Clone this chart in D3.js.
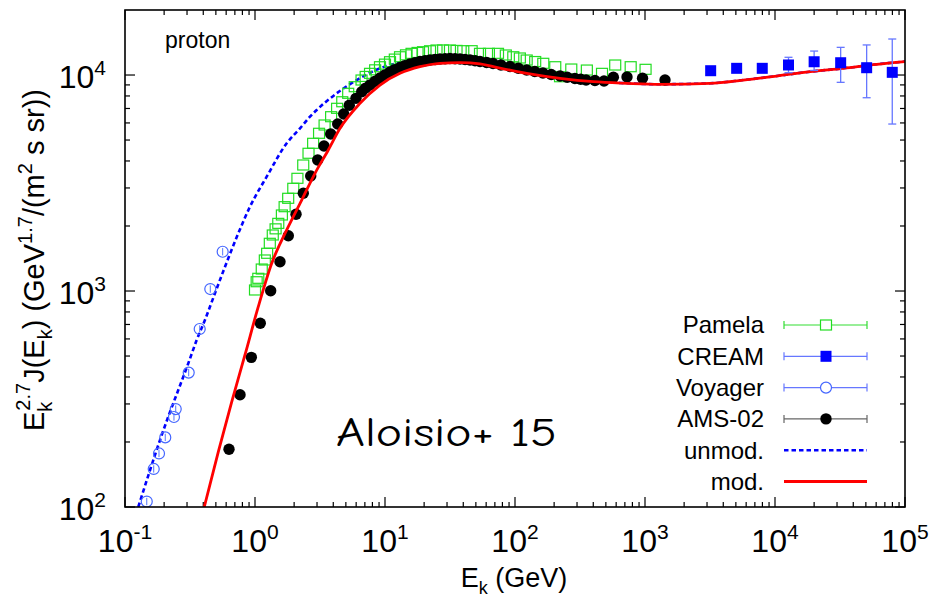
<!DOCTYPE html>
<html>
<head>
<meta charset="utf-8">
<script src="https://cdn.jsdelivr.net/npm/d3@7"></script>
<style>
  body { margin: 0; background: #fff; }
  svg { display: block; font-family: "Liberation Sans", Arial, Helvetica, sans-serif; }
</style>
</head>
<body>
<div id="chart"></div>
<script>
// ---- data (Ek in GeV, flux Ek^2.7 J) ----
var voyE = [0.147, 0.1663, 0.1826, 0.204, 0.238, 0.2455, 0.309, 0.3755, 0.453, 0.564];
var voyF = [106, 150, 177, 210, 261, 284, 419, 667, 1021, 1520];

var amsE = [0.631, 0.767, 0.937, 1.098, 1.32, 1.557, 1.804, 2.068, 2.352, 2.683, 3.035, 3.394,
    3.823, 4.327, 4.813, 5.314, 5.98, 6.62, 7.1, 7.67, 8.4, 9.15, 10.0, 10.93, 11.9, 13.05,
    14.2, 15.57, 17.0, 18.58, 20.3, 22.2, 24.3, 26.5, 29.0, 31.6, 34.6, 37.8, 41.3, 45.1,
    49.3, 53.8, 60.5, 67.8, 78, 91.5, 106, 123, 142, 164, 190, 222, 252, 289, 320, 352,
    412, 484, 571, 727, 957, 1425];
var amsF = [185, 331, 493, 709, 1003, 1366, 1803, 2265, 2834, 3407, 4042, 4691,
    5333, 5932, 6598, 7240, 7800, 8368, 8700, 8989, 9350, 9685, 10020, 10325, 10590, 10832,
    11050, 11240, 11400, 11547, 11650, 11733, 11800, 11860, 11900, 11923, 11900, 11860, 11800, 11733,
    11640, 11547, 11420, 11303, 11130, 10950, 10750, 10545, 10380, 10216, 10050, 9894, 9760, 9634, 9560, 9482,
    9430, 9380, 9759, 9788, 9654, 9482];

var pamE = [1.0, 1.03, 1.06, 1.127, 1.19, 1.24, 1.30, 1.37, 1.44, 1.51, 1.61, 1.69, 1.80, 1.97,
    2.12, 2.35, 2.58, 2.80, 3.11, 3.43, 3.85, 4.28, 4.69, 5.21, 5.85, 6.6, 7.1, 7.67, 8.4, 9.15,
    10.0, 10.93, 11.9, 13.05, 14.5, 16.0, 17.8, 19.6, 22.2, 24.9, 28, 31.6, 35.5, 40.0, 46.4,
    53.8, 63, 74, 85, 97, 109, 123, 143, 165, 204, 222, 271, 357, 467, 590, 776, 1010];
var pamF = [1011, 1104, 1145, 1264, 1392, 1495, 1663, 1817, 1940, 2057, 2249, 2457, 2687, 2989,
    3325, 3832, 4342, 4829, 5373, 5870, 6412, 7013, 7520, 8229, 8829, 9482, 9850, 10180, 10570, 10925,
    11230, 11525, 11850, 12150, 12400, 12600, 12720, 12820, 12950, 13055, 13060, 13055, 13000, 12960, 12960,
    12600, 12600, 12600, 12380, 12150, 11990, 11733, 11547, 11330, 10925, 9820, 10660, 10545, 10180, 11125, 10925, 10627];

var creamE = [3200, 5070, 7980, 12700, 20000, 32000, 50700, 79800];
var creamF = [10470, 10740, 10740, 11130, 11520, 11400, 10810, 10290];
var creamLo = [10150, 10450, 10450, 10250, 10500, 9250, 7850, 5930];
var creamHi = [10800, 11050, 11050, 12080, 12910, 13430, 13780, 14680];

var unmodE = [0.1265, 0.1557, 0.1858, 0.2153, 0.257, 0.307, 0.356, 0.412, 0.492, 0.588, 0.744, 0.915,
    1.23, 1.753, 2.22, 2.65, 2.983, 4.25, 6.06, 9.15, 13.83, 22.2, 33.5, 53.8, 68.1, 123, 222, 400,
    722, 1304, 3162, 5700, 10300, 18580, 33500, 60500, 100000];
var unmodF = [100, 148, 204, 262, 348, 463, 593, 734, 976, 1296, 1850, 2457,
    3383, 4829, 5665, 6412, 6887, 8229, 9480, 10740, 11525, 12080, 12080, 11820, 11525, 10545, 9894, 9360,
    9160, 9065, 9155, 9480, 9894, 10360, 10740, 11210, 11550];

var modE = [0.407, 0.522, 0.662, 0.838, 1.06, 1.345, 1.804, 2.287, 2.894, 3.663, 4.507, 6.42, 9.15,
    13.05, 18.58, 26.5, 37.8, 53.8, 68.1, 123, 222, 400, 722, 1304, 3162, 5700, 10300, 18580,
    33500, 60500, 100000];
var modF = [100, 180, 307, 507, 846, 1343, 1985, 2638, 3507, 4497, 5665, 7396, 8989,
    10180, 10925, 11330, 11405, 11250, 10925, 10180, 9654, 9310, 9155, 9060, 9155, 9480, 9894, 10360,
    10740, 11210, 11550];

var xDecades = [-1, 0, 1, 2, 3, 4, 5];
var yDecades = [2, 3, 4];
var legendNames = ["Pamela", "CREAM", "Voyager", "AMS-02", "unmod.", "mod."];

// ---- layout ----
var width = 933, height = 603;
var pL = 125, pR = 905, pT = 10, pB = 507;

var x = d3.scaleLog().domain([0.1, 1e5]).range([pL, pR]);
var y = d3.scaleLog().domain([100, 2e4]).range([pB, pT]);

var svg = d3.select('#chart').append('svg')
    .attr('width', width)
    .attr('height', height);

svg.append('defs').append('clipPath').attr('id', 'clip')
    .append('rect')
    .attr('x', pL).attr('y', pT)
    .attr('width', pR - pL).attr('height', pB - pT);

var zip = (a, b) => a.map((v, i) => [v, b[i]]);

// ticks (inward, all four sides)
var tickG = svg.append('g').attr('stroke', '#000').attr('stroke-width', 1.2);
var xMinor = [], yMinor = [];
for (var d = -1; d < 5; d++) for (var k = 2; k <= 9; k++) xMinor.push(k * Math.pow(10, d));
for (var d = 2; d < 5; d++) for (var k = 2; k <= 9; k++) {
    var v = k * Math.pow(10, d);
    if (v < 2e4) yMinor.push(v);
}
xDecades.forEach(function(e) {
    var px = x(Math.pow(10, e));
    tickG.append('line').attr('x1', px).attr('x2', px).attr('y1', pB).attr('y2', pB - 10);
    tickG.append('line').attr('x1', px).attr('x2', px).attr('y1', pT).attr('y2', pT + 10);
});
xMinor.forEach(function(v) {
    var px = x(v);
    tickG.append('line').attr('x1', px).attr('x2', px).attr('y1', pB).attr('y2', pB - 5);
    tickG.append('line').attr('x1', px).attr('x2', px).attr('y1', pT).attr('y2', pT + 5);
});
yDecades.forEach(function(e) {
    var py = y(Math.pow(10, e));
    tickG.append('line').attr('x1', pL).attr('x2', pL + 10).attr('y1', py).attr('y2', py);
    tickG.append('line').attr('x1', pR).attr('x2', pR - 10).attr('y1', py).attr('y2', py);
});
yMinor.forEach(function(v) {
    var py = y(v);
    tickG.append('line').attr('x1', pL).attr('x2', pL + 5).attr('y1', py).attr('y2', py);
    tickG.append('line').attr('x1', pR).attr('x2', pR - 5).attr('y1', py).attr('y2', py);
});

// tick labels
xDecades.forEach(function(e) {
    var t = svg.append('text')
        .attr('x', x(Math.pow(10, e)))
        .attr('y', 552)
        .attr('text-anchor', 'middle')
        .attr('font-size', 32);
    t.append('tspan').text('10');
    t.append('tspan').attr('dy', -13).attr('font-size', 21).text(e);
});
yDecades.forEach(function(e) {
    var t = svg.append('text')
        .attr('x', 106)
        .attr('y', y(Math.pow(10, e)) + 13)
        .attr('text-anchor', 'end')
        .attr('font-size', 32);
    t.append('tspan').text('10');
    t.append('tspan').attr('dy', -13).attr('font-size', 21).text(e);
});

// axis titles
var xt = svg.append('text')
    .attr('x', 514).attr('y', 587)
    .attr('text-anchor', 'middle')
    .attr('font-size', 27);
xt.append('tspan').text('E');
xt.append('tspan').attr('dy', 7).attr('font-size', 18).text('k');
xt.append('tspan').attr('dy', -7).text(' (GeV)');

var yt = svg.append('text')
    .attr('transform', 'translate(44,260) rotate(-90)')
    .attr('text-anchor', 'middle')
    .attr('font-size', 29);
yt.append('tspan').text('E');
yt.append('tspan').attr('dy', 8).attr('font-size', 20).text('k');
yt.append('tspan').attr('dy', -22).attr('dx', -9).attr('font-size', 20).text('2.7');
yt.append('tspan').attr('dy', 14).text('J(E');
yt.append('tspan').attr('dy', 8).attr('font-size', 20).text('k');
yt.append('tspan').attr('dy', -8).text(') (GeV');
yt.append('tspan').attr('dy', -12).attr('font-size', 20).text('1.7');
yt.append('tspan').attr('dy', 12).text('/(m');
yt.append('tspan').attr('dy', -12).attr('font-size', 20).text('2');
yt.append('tspan').attr('dy', 12).text(' s sr))');

// labels inside
svg.append('text').attr('x', 165).attr('y', 48).attr('font-size', 23).text('proton');
svg.append('text')
    .attr('x', 336).attr('y', 446)
    .attr('font-family', '"Comic Sans MS", "Comic Neue", "Noto Sans", sans-serif')
    .attr('font-size', 40)
    .attr('textLength', 221)
    .attr('lengthAdjust', 'spacingAndGlyphs')
    .text('Aloisio+ 15');

// curves
var plot = svg.append('g').attr('clip-path', 'url(#clip)');
var line = d3.line().x(d => x(d[0])).y(d => y(d[1])).curve(d3.curveMonotoneX);

plot.append('path')
    .datum(zip(unmodE, unmodF))
    .attr('d', line)
    .attr('fill', 'none')
    .attr('stroke', '#0000ff')
    .attr('stroke-width', 2.6)
    .attr('stroke-dasharray', '4.5,3');

// pamela squares
plot.selectAll('rect.pam')
    .data(zip(pamE, pamF))
    .enter().append('rect')
    .attr('class', 'pam')
    .attr('x', d => x(d[0]) - 5.5)
    .attr('y', d => y(d[1]) - 5)
    .attr('width', 11)
    .attr('height', 10)
    .attr('fill', 'none')
    .attr('stroke', '#22dd22')
    .attr('stroke-width', 1.2);

// AMS-02 dots
plot.selectAll('circle.ams')
    .data(zip(amsE, amsF))
    .enter().append('circle')
    .attr('class', 'ams')
    .attr('cx', d => x(d[0]))
    .attr('cy', d => y(d[1]))
    .attr('r', 5.7)
    .attr('fill', '#000');

plot.append('path')
    .datum(zip(modE, modF))
    .attr('d', line)
    .attr('fill', 'none')
    .attr('stroke', '#ff0000')
    .attr('stroke-width', 2.8);

// voyager open circles with small error bar
var voy = plot.selectAll('g.voy')
    .data(zip(voyE, voyF))
    .enter().append('g')
    .attr('class', 'voy');
voy.append('line')
    .attr('x1', d => x(d[0])).attr('x2', d => x(d[0]))
    .attr('y1', d => y(d[1] * 1.04)).attr('y2', d => y(d[1] / 1.04))
    .attr('stroke', '#5577ff').attr('stroke-width', 1);
voy.append('circle')
    .attr('cx', d => x(d[0]))
    .attr('cy', d => y(d[1]))
    .attr('r', 5.5)
    .attr('fill', 'none')
    .attr('stroke', '#4466ff')
    .attr('stroke-width', 1.2);

// CREAM filled squares with error bars
var cream = creamE.map((e, i) => ({e: e, f: creamF[i], lo: creamLo[i], hi: creamHi[i]}));
var cg = plot.selectAll('g.cream').data(cream).enter().append('g').attr('class', 'cream');
cg.append('line')
    .attr('x1', d => x(d.e)).attr('x2', d => x(d.e))
    .attr('y1', d => y(d.lo)).attr('y2', d => y(d.hi))
    .attr('stroke', '#6677ff').attr('stroke-width', 1.3);
cg.append('line')
    .attr('x1', d => x(d.e) - 4).attr('x2', d => x(d.e) + 4)
    .attr('y1', d => y(d.lo)).attr('y2', d => y(d.lo))
    .attr('stroke', '#6677ff').attr('stroke-width', 1.3);
cg.append('line')
    .attr('x1', d => x(d.e) - 4).attr('x2', d => x(d.e) + 4)
    .attr('y1', d => y(d.hi)).attr('y2', d => y(d.hi))
    .attr('stroke', '#6677ff').attr('stroke-width', 1.3);
cg.append('rect')
    .attr('x', d => x(d.e) - 5.5)
    .attr('y', d => y(d.f) - 5.5)
    .attr('width', 11).attr('height', 11)
    .attr('fill', '#0000ff');

// frame
svg.append('rect')
    .attr('x', pL).attr('y', pT)
    .attr('width', pR - pL).attr('height', pB - pT)
    .attr('fill', 'none')
    .attr('stroke', '#000')
    .attr('stroke-width', 1.6);

// legend
var legY0 = 325, legStep = 31.3, lx1 = 784, lx2 = 867, lmid = 826;
var leg = svg.append('g');
legendNames.forEach(function(name, i) {
    var ly = legY0 + i * legStep;
    leg.append('text')
        .attr('x', 764).attr('y', ly)
        .attr('dy', '0.35em')
        .attr('text-anchor', 'end')
        .attr('font-size', 24)
        .text(name);
    if (i < 4) {
        var col = ['#33dd33', '#6677ff', '#6677ff', '#666666'][i];
        leg.append('line').attr('x1', lx1).attr('x2', lx2).attr('y1', ly).attr('y2', ly)
            .attr('stroke', col).attr('stroke-width', 1.2);
        [lx1, lx2].forEach(function(cx) {
            leg.append('line').attr('x1', cx).attr('x2', cx).attr('y1', ly - 4).attr('y2', ly + 4)
                .attr('stroke', col).attr('stroke-width', 1.2);
        });
    }
    if (i === 0) {
        leg.append('rect').attr('x', lmid - 5.5).attr('y', ly - 5).attr('width', 11).attr('height', 10)
            .attr('fill', '#fff').attr('stroke', '#22dd22').attr('stroke-width', 1.2);
    } else if (i === 1) {
        leg.append('rect').attr('x', lmid - 5.5).attr('y', ly - 5.5).attr('width', 11).attr('height', 11)
            .attr('fill', '#0000ff');
    } else if (i === 2) {
        leg.append('circle').attr('cx', lmid).attr('cy', ly).attr('r', 5.5)
            .attr('fill', '#fff').attr('stroke', '#4466ff').attr('stroke-width', 1.2);
    } else if (i === 3) {
        leg.append('circle').attr('cx', lmid).attr('cy', ly).attr('r', 5.7).attr('fill', '#000');
    } else if (i === 4) {
        leg.append('line').attr('x1', lx1).attr('x2', lx2).attr('y1', ly).attr('y2', ly)
            .attr('stroke', '#0000ff').attr('stroke-width', 2.6).attr('stroke-dasharray', '4.5,3');
    } else {
        leg.append('line').attr('x1', lx1).attr('x2', lx2).attr('y1', ly).attr('y2', ly)
            .attr('stroke', '#ff0000').attr('stroke-width', 2.8);
    }
});
</script>
</body>
</html>
